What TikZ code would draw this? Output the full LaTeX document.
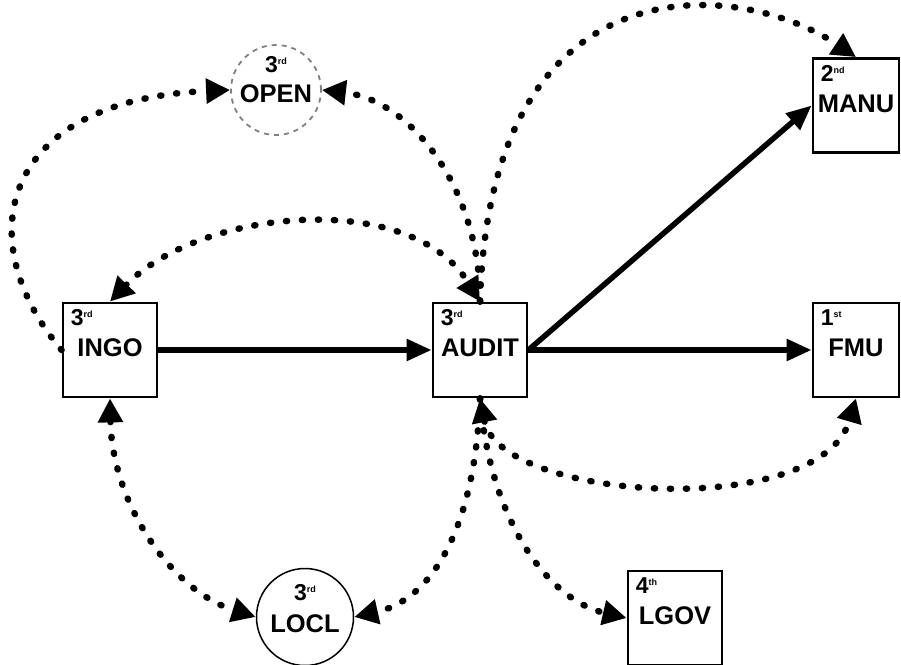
\documentclass[tikz,border=0pt]{standalone}
\usepackage{fontspec}
\setmainfont{Liberation Sans}
\usetikzlibrary{arrows.meta}

% ordinale con apice piccolo
\newcommand{\ordinale}[2]{#1\raisebox{8pt}{\fontsize{9}{9}\selectfont #2}}

\begin{document}
\begin{tikzpicture}[x=1pt,y=-1pt,
  scatola/.style={draw, line width=2.8pt, fill=white, inner sep=0pt, minimum height=94pt},
  cerchio/.style={circle, draw, fill=white, inner sep=0pt},
  rango/.style={inner sep=0pt, font=\bfseries\fontsize{23}{23}\selectfont},
  nome/.style={inner sep=0pt, font=\bfseries\fontsize{25.5}{25.5}\selectfont},
  freccia/.style={line width=5.5pt, -{Triangle[length=25pt,width=21pt]}},
  puntini/.style={line width=6.5pt, line cap=round, dash pattern=on 1.2pt off 14.8pt,
    >={Triangle[length=24pt,width=24pt]}}]

\useasboundingbox (0,0) rectangle (901,664);

% Scatole
\foreach \id/\x/\y/\w/\n/\s/\testo in {ingo/110/350/94/3/rd/INGO, audit/480/350/94/3/rd/AUDIT,
  manu/856/105.5/86/2/nd/MANU, fmu/856/350/86/1/st/FMU, lgov/675/618/94/4/th/LGOV} {
  \node[scatola, minimum width=\w pt] (\id) at (\x,\y) {};
  \node[rango, anchor=base west] (\id-rango) at ([xshift=9pt,yshift=-24pt]\id.north west) {\ordinale{\n}{\s}};
  \node[nome, anchor=base] (\id-nome) at ([yshift=-55pt]\id.north) {\testo};
}

% Cerchi
\node[cerchio, draw=gray, line width=1.8pt, dash pattern=on 5pt off 5pt, minimum size=90pt] (open) at (276,90) {};
\node[rango, anchor=base] (open-rango) at ([yshift=18pt]open.center) {\ordinale{3}{rd}};
\node[nome, anchor=base] (open-nome) at ([yshift=-12pt]open.center) {OPEN};

\node[cerchio, line width=1.5pt, minimum size=97pt] (locl) at (305,617) {};
\node[rango, anchor=base] (locl-rango) at ([yshift=17pt]locl.center) {\ordinale{3}{rd}};
\node[nome, anchor=base] (locl-nome) at ([yshift=-15pt]locl.center) {LOCL};

% Frecce piene
\draw[freccia] (ingo.east) -- (audit.west);
\draw[freccia] (audit.east) -- (fmu.west);
\draw[freccia] (audit.east) -- (manu.west);

% Frecce a puntini
\draw[puntini, ->] (ingo.west) .. controls +(-93,-110) and +(-231,10) .. (open.west);
\draw[puntini, <->] (ingo.north) .. controls +(90,-93) and +(-70,-113) .. (audit.north);
\draw[puntini, ->] (audit.north) .. controls +(0,-113) and +(89,10) .. (open.east);
\draw[puntini, ->] (audit.north) .. controls +(10,-343) and +(-120,-80) .. (manu.north);
\draw[puntini, <->] (audit.south) .. controls +(20,103) and +(-36,123) .. (fmu.south);
\draw[puntini, <->] (ingo.south) .. controls +(2,103) and +(-86,-27) .. (locl.west);
\draw[puntini, ->] (audit.south) .. controls +(-5,133) and +(76,-17) .. (locl.east);
\draw[puntini, ->] (audit.south) .. controls +(10,123) and +(-78,-18) .. (lgov.west);

\end{tikzpicture}
\end{document}
